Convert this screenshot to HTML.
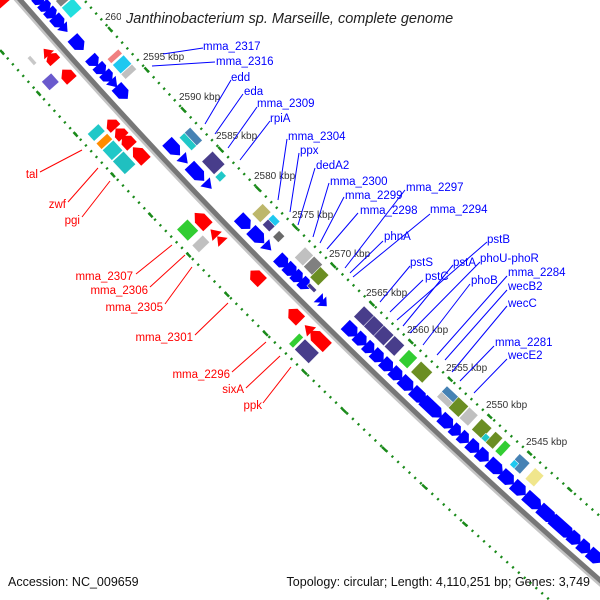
<!DOCTYPE html>
<html><head><meta charset="utf-8"><style>
html,body{margin:0;padding:0;background:#fff;width:600px;height:600px;overflow:hidden;}
svg{display:block;overflow:hidden;}
text{font-family:"Liberation Sans",sans-serif;}
.b{fill:#0000ff;}
.r{fill:#ff0000;}
.bl{fill:#0000ff;font-size:11.5px;}
.rl{fill:#ff0000;font-size:11.5px;}
.k{fill:#333;font-size:10px;}
</style></head><body>
<svg width="600" height="600" viewBox="0 0 600 600" xmlns="http://www.w3.org/2000/svg">
<rect width="600" height="600" fill="#fff"/>
<path d="M18.6,-75.4 A5952,5952 0 0 0 679.4,585.3" fill="none" stroke="#1a8a1a" stroke-width="2.5" stroke-dasharray="2 5.8"/>
<path d="M-54.3,-13 A6048,6048 0 0 0 617,658.3" fill="none" stroke="#1a8a1a" stroke-width="2.5" stroke-dasharray="2 5.8"/>
<g stroke="#1a8a1a" stroke-width="2.5">
<line transform="rotate(4.2 4544.6 -3940.6) translate(302 302) rotate(45)" x1="-3" y1="-48" x2="3" y2="-48"/>
<line transform="rotate(3.684 4544.6 -3940.6) translate(302 302) rotate(45)" x1="-3" y1="-48" x2="3" y2="-48"/>
<line transform="rotate(3.163 4544.6 -3940.6) translate(302 302) rotate(45)" x1="-3" y1="-48" x2="3" y2="-48"/>
<line transform="rotate(2.641 4544.6 -3940.6) translate(302 302) rotate(45)" x1="-3" y1="-48" x2="3" y2="-48"/>
<line transform="rotate(2.119 4544.6 -3940.6) translate(302 302) rotate(45)" x1="-3" y1="-48" x2="3" y2="-48"/>
<line transform="rotate(1.597 4544.6 -3940.6) translate(302 302) rotate(45)" x1="-3" y1="-48" x2="3" y2="-48"/>
<line transform="rotate(1.075 4544.6 -3940.6) translate(302 302) rotate(45)" x1="-3" y1="-48" x2="3" y2="-48"/>
<line transform="rotate(0.553 4544.6 -3940.6) translate(302 302) rotate(45)" x1="-3" y1="-48" x2="3" y2="-48"/>
<line transform="rotate(0.031 4544.6 -3940.6) translate(302 302) rotate(45)" x1="-3" y1="-48" x2="3" y2="-48"/>
<line transform="rotate(-0.491 4544.6 -3940.6) translate(302 302) rotate(45)" x1="-3" y1="-48" x2="3" y2="-48"/>
<line transform="rotate(-1.012 4544.6 -3940.6) translate(302 302) rotate(45)" x1="-3" y1="-48" x2="3" y2="-48"/>
<line transform="rotate(-1.535 4544.6 -3940.6) translate(302 302) rotate(45)" x1="-3" y1="-48" x2="3" y2="-48"/>
<line transform="rotate(-2.057 4544.6 -3940.6) translate(302 302) rotate(45)" x1="-3" y1="-48" x2="3" y2="-48"/>
<line transform="rotate(-2.579 4544.6 -3940.6) translate(302 302) rotate(45)" x1="-3" y1="-48" x2="3" y2="-48"/>
<line transform="rotate(-3.1 4544.6 -3940.6) translate(302 302) rotate(45)" x1="-3" y1="-48" x2="3" y2="-48"/>
<line transform="rotate(-3.622 4544.6 -3940.6) translate(302 302) rotate(45)" x1="-3" y1="-48" x2="3" y2="-48"/>
<line transform="rotate(4.2 4544.6 -3940.6) translate(302 302) rotate(45)" x1="-3" y1="48" x2="3" y2="48"/>
<line transform="rotate(3.684 4544.6 -3940.6) translate(302 302) rotate(45)" x1="-3" y1="48" x2="3" y2="48"/>
<line transform="rotate(3.163 4544.6 -3940.6) translate(302 302) rotate(45)" x1="-3" y1="48" x2="3" y2="48"/>
<line transform="rotate(2.641 4544.6 -3940.6) translate(302 302) rotate(45)" x1="-3" y1="48" x2="3" y2="48"/>
<line transform="rotate(2.119 4544.6 -3940.6) translate(302 302) rotate(45)" x1="-3" y1="48" x2="3" y2="48"/>
<line transform="rotate(1.597 4544.6 -3940.6) translate(302 302) rotate(45)" x1="-3" y1="48" x2="3" y2="48"/>
<line transform="rotate(1.075 4544.6 -3940.6) translate(302 302) rotate(45)" x1="-3" y1="48" x2="3" y2="48"/>
<line transform="rotate(0.553 4544.6 -3940.6) translate(302 302) rotate(45)" x1="-3" y1="48" x2="3" y2="48"/>
<line transform="rotate(0.031 4544.6 -3940.6) translate(302 302) rotate(45)" x1="-3" y1="48" x2="3" y2="48"/>
<line transform="rotate(-0.491 4544.6 -3940.6) translate(302 302) rotate(45)" x1="-3" y1="48" x2="3" y2="48"/>
<line transform="rotate(-1.012 4544.6 -3940.6) translate(302 302) rotate(45)" x1="-3" y1="48" x2="3" y2="48"/>
<line transform="rotate(-1.535 4544.6 -3940.6) translate(302 302) rotate(45)" x1="-3" y1="48" x2="3" y2="48"/>
<line transform="rotate(-2.057 4544.6 -3940.6) translate(302 302) rotate(45)" x1="-3" y1="48" x2="3" y2="48"/>
<line transform="rotate(-2.579 4544.6 -3940.6) translate(302 302) rotate(45)" x1="-3" y1="48" x2="3" y2="48"/>
</g>
<path d="M-17.8,-44.2 A6000,6000 0 0 0 648.2,621.8" fill="none" stroke="#c4c4c4" stroke-width="3" transform="translate(-2.5 2.5)"/>
<path d="M-17.8,-44.2 A6000,6000 0 0 0 648.2,621.8" fill="none" stroke="#777" stroke-width="5"/>

<g class="b">
<polygon transform="rotate(3.82 4544.6 -3940.6) translate(302 302) rotate(45) scale(1.2 1)" points="-4.5,-21 0.5,-21 4.5,-14.5 0.5,-8 -4.5,-8"/>
<polygon transform="rotate(3.734 4544.6 -3940.6) translate(302 302) rotate(45) scale(1.2 1)" points="-4.5,-21 0.5,-21 4.5,-14.5 0.5,-8 -4.5,-8"/>
<polygon transform="rotate(3.648 4544.6 -3940.6) translate(302 302) rotate(45) scale(1.2 1)" points="-4.5,-21 0.5,-21 4.5,-14.5 0.5,-8 -4.5,-8"/>
<polygon transform="rotate(3.543 4544.6 -3940.6) translate(302 302) rotate(45) scale(1.2 1)" points="-6,-21 1,-21 6,-14.5 1,-8 -6,-8"/>
<polygon transform="rotate(3.457 4544.6 -3940.6) translate(302 302) rotate(45) scale(1.2 1)" points="-3.5,-21 3.5,-14.5 -3.5,-8"/>
<polygon transform="rotate(3.266 4544.6 -3940.6) translate(302 302) rotate(45) scale(1.2 1)" points="-7,-21 2,-21 7,-14.5 2,-8 -7,-8"/>
<polygon transform="rotate(3.037 4544.6 -3940.6) translate(302 302) rotate(45) scale(1.2 1)" points="-5,-21 0,-21 5,-14.5 0,-8 -5,-8"/>
<polygon transform="rotate(2.932 4544.6 -3940.6) translate(302 302) rotate(45) scale(1.2 1)" points="-5,-21 0,-21 5,-14.5 0,-8 -5,-8"/>
<polygon transform="rotate(2.836 4544.6 -3940.6) translate(302 302) rotate(45) scale(1.2 1)" points="-5,-21 0,-21 5,-14.5 0,-8 -5,-8"/>
<polygon transform="rotate(2.75 4544.6 -3940.6) translate(302 302) rotate(45) scale(1.2 1)" points="-4,-21 4,-14.5 -4,-8"/>
<polygon transform="rotate(2.636 4544.6 -3940.6) translate(302 302) rotate(45) scale(1.2 1)" points="-7,-21 2,-21 7,-14.5 2,-8 -7,-8"/>
<polygon transform="rotate(1.91 4544.6 -3940.6) translate(302 302) rotate(45) scale(1.2 1)" points="-8,-21 2,-21 8,-14.5 2,-8 -8,-8"/>
<polygon transform="rotate(1.757 4544.6 -3940.6) translate(302 302) rotate(45) scale(1.2 1)" points="-4,-21 4,-14.5 -4,-8"/>
<polygon transform="rotate(1.585 4544.6 -3940.6) translate(302 302) rotate(45) scale(1.2 1)" points="-9,-21 3,-21 9,-14.5 3,-8 -9,-8"/>
<polygon transform="rotate(1.423 4544.6 -3940.6) translate(302 302) rotate(45) scale(1.2 1)" points="-4,-21 4,-14.5 -4,-8"/>
<polygon transform="rotate(0.926 4544.6 -3940.6) translate(302 302) rotate(45) scale(1.2 1)" points="-7,-21 2,-21 7,-14.5 2,-8 -7,-8"/>
<polygon transform="rotate(0.745 4544.6 -3940.6) translate(302 302) rotate(45) scale(1.2 1)" points="-8,-21 2,-21 8,-14.5 2,-8 -8,-8"/>
<polygon transform="rotate(0.602 4544.6 -3940.6) translate(302 302) rotate(45) scale(1.2 1)" points="-4,-21 4,-14.5 -4,-8"/>
<polygon transform="rotate(0.401 4544.6 -3940.6) translate(302 302) rotate(45) scale(1.2 1)" points="-6,-21 1,-21 6,-14.5 1,-8 -6,-8"/>
<polygon transform="rotate(0.287 4544.6 -3940.6) translate(302 302) rotate(45) scale(1.2 1)" points="-6,-21 1,-21 6,-14.5 1,-8 -6,-8"/>
<polygon transform="rotate(0.191 4544.6 -3940.6) translate(302 302) rotate(45) scale(1.2 1)" points="-5,-21 0,-21 5,-14.5 0,-8 -5,-8"/>
<polygon transform="rotate(0.096 4544.6 -3940.6) translate(302 302) rotate(45) scale(1.2 1)" points="-5,-21 0,-21 5,-14.5 0,-8 -5,-8"/>
<polygon transform="rotate(-0.115 4544.6 -3940.6) translate(302 302) rotate(45) scale(1.2 1)" points="-3,-21 3,-14.5 -3,-8"/>
<polygon transform="rotate(-0.162 4544.6 -3940.6) translate(302 302) rotate(45) scale(1.2 1)" points="-3,-21 3,-14.5 -3,-8"/>
<polygon transform="rotate(-0.525 4544.6 -3940.6) translate(302 302) rotate(45) scale(1.2 1)" points="-7,-21 2,-21 7,-14.5 2,-8 -7,-8"/>
<polygon transform="rotate(-0.659 4544.6 -3940.6) translate(302 302) rotate(45) scale(1.2 1)" points="-6,-21 1,-21 6,-14.5 1,-8 -6,-8"/>
<polygon transform="rotate(-0.774 4544.6 -3940.6) translate(302 302) rotate(45) scale(1.2 1)" points="-5,-21 0,-21 5,-14.5 0,-8 -5,-8"/>
<polygon transform="rotate(-0.888 4544.6 -3940.6) translate(302 302) rotate(45) scale(1.2 1)" points="-6,-21 1,-21 6,-14.5 1,-8 -6,-8"/>
<polygon transform="rotate(-1.012 4544.6 -3940.6) translate(302 302) rotate(45) scale(1.2 1)" points="-6,-21 1,-21 6,-14.5 1,-8 -6,-8"/>
<polygon transform="rotate(-1.136 4544.6 -3940.6) translate(302 302) rotate(45) scale(1.2 1)" points="-6,-21 1,-21 6,-14.5 1,-8 -6,-8"/>
<polygon transform="rotate(-1.27 4544.6 -3940.6) translate(302 302) rotate(45) scale(1.2 1)" points="-7,-21 2,-21 7,-14.5 2,-8 -7,-8"/>
<polygon transform="rotate(-1.433 4544.6 -3940.6) translate(302 302) rotate(45) scale(1.2 1)" points="-8,-21 2,-21 8,-14.5 2,-8 -8,-8"/>
<polygon transform="rotate(-1.604 4544.6 -3940.6) translate(302 302) rotate(45) scale(1.2 1)" points="-11,-21 5,-21 11,-14.5 5,-8 -11,-8"/>
<polygon transform="rotate(-1.795 4544.6 -3940.6) translate(302 302) rotate(45) scale(1.2 1)" points="-7,-21 2,-21 7,-14.5 2,-8 -7,-8"/>
<polygon transform="rotate(-1.92 4544.6 -3940.6) translate(302 302) rotate(45) scale(1.2 1)" points="-5,-21 0,-21 5,-14.5 0,-8 -5,-8"/>
<polygon transform="rotate(-2.025 4544.6 -3940.6) translate(302 302) rotate(45) scale(1.2 1)" points="-5,-21 0,-21 5,-14.5 0,-8 -5,-8"/>
<polygon transform="rotate(-2.149 4544.6 -3940.6) translate(302 302) rotate(45) scale(1.2 1)" points="-6,-21 1,-21 6,-14.5 1,-8 -6,-8"/>
<polygon transform="rotate(-2.273 4544.6 -3940.6) translate(302 302) rotate(45) scale(1.2 1)" points="-6,-21 1,-21 6,-14.5 1,-8 -6,-8"/>
<polygon transform="rotate(-2.435 4544.6 -3940.6) translate(302 302) rotate(45) scale(1.2 1)" points="-8,-21 2,-21 8,-14.5 2,-8 -8,-8"/>
<polygon transform="rotate(-2.588 4544.6 -3940.6) translate(302 302) rotate(45) scale(1.2 1)" points="-7,-21 2,-21 7,-14.5 2,-8 -7,-8"/>
<polygon transform="rotate(-2.741 4544.6 -3940.6) translate(302 302) rotate(45) scale(1.2 1)" points="-7,-21 2,-21 7,-14.5 2,-8 -7,-8"/>
<polygon transform="rotate(-2.922 4544.6 -3940.6) translate(302 302) rotate(45) scale(1.2 1)" points="-9,-21 3,-21 9,-14.5 3,-8 -9,-8"/>
<polygon transform="rotate(-3.104 4544.6 -3940.6) translate(302 302) rotate(45) scale(1.2 1)" points="-9,-21 3,-21 9,-14.5 3,-8 -9,-8"/>
<polygon transform="rotate(-3.295 4544.6 -3940.6) translate(302 302) rotate(45) scale(1.2 1)" points="-12,-21 6,-21 12,-14.5 6,-8 -12,-8"/>
<polygon transform="rotate(-3.457 4544.6 -3940.6) translate(302 302) rotate(45) scale(1.2 1)" points="-6,-21 1,-21 6,-14.5 1,-8 -6,-8"/>
<polygon transform="rotate(-3.581 4544.6 -3940.6) translate(302 302) rotate(45) scale(1.2 1)" points="-6,-21 1,-21 6,-14.5 1,-8 -6,-8"/>
<polygon transform="rotate(-3.715 4544.6 -3940.6) translate(302 302) rotate(45) scale(1.2 1)" points="-7,-21 2,-21 7,-14.5 2,-8 -7,-8"/>
</g>

<g class="r">
<polygon transform="rotate(4.068 4544.6 -3940.6) translate(302 302) rotate(45) scale(1.2 1)" points="5,8 0,8 -5,14.5 0,21 5,21"/>
<polygon transform="rotate(3.409 4544.6 -3940.6) translate(302 302) rotate(45) scale(1.2 1)" points="3.5,8 -3.5,14.5 3.5,21"/>
<polygon transform="rotate(3.333 4544.6 -3940.6) translate(302 302) rotate(45) scale(1.2 1)" points="4.5,8 -0.5,8 -4.5,14.5 -0.5,21 4.5,21"/>
<polygon transform="rotate(3.113 4544.6 -3940.6) translate(302 302) rotate(45) scale(1.2 1)" points="6,8 -1,8 -6,14.5 -1,21 6,21"/>
<polygon transform="rotate(2.483 4544.6 -3940.6) translate(302 302) rotate(45) scale(1.2 1)" points="5,8 0,8 -5,14.5 0,21 5,21"/>
<polygon transform="rotate(2.368 4544.6 -3940.6) translate(302 302) rotate(45) scale(1.2 1)" points="5,8 0,8 -5,14.5 0,21 5,21"/>
<polygon transform="rotate(2.263 4544.6 -3940.6) translate(302 302) rotate(45) scale(1.2 1)" points="6,8 -1,8 -6,14.5 -1,21 6,21"/>
<polygon transform="rotate(2.091 4544.6 -3940.6) translate(302 302) rotate(45) scale(1.2 1)" points="8,8 -2,8 -8,14.5 -2,21 8,21"/>
<polygon transform="rotate(1.232 4544.6 -3940.6) translate(302 302) rotate(45) scale(1.2 1)" points="8,8 -2,8 -8,14.5 -2,21 8,21"/>
<polygon transform="rotate(1.06 4544.6 -3940.6) translate(302 302) rotate(45) scale(1.2 1)" points="4,8 -4,14.5 4,21"/>
<polygon transform="rotate(0.974 4544.6 -3940.6) translate(302 302) rotate(45) scale(1.2 1)" points="3.5,8 -3.5,14.5 3.5,21"/>
<polygon transform="rotate(0.478 4544.6 -3940.6) translate(302 302) rotate(45) scale(1.2 1)" points="7,8 -2,8 -7,14.5 -2,21 7,21"/>
<polygon transform="rotate(-0.038 4544.6 -3940.6) translate(302 302) rotate(45) scale(1.2 1)" points="7,8 -2,8 -7,14.5 -2,21 7,21"/>
<polygon transform="rotate(-0.22 4544.6 -3940.6) translate(302 302) rotate(45) scale(1.2 1)" points="4,8 -4,14.5 4,21"/>
<polygon transform="rotate(-0.363 4544.6 -3940.6) translate(302 302) rotate(45) scale(1.2 1)" points="10,8 -4,8 -10,14.5 -4,21 10,21"/>
</g>

<g stroke="#fff" stroke-width="0.5">
<rect transform="rotate(3.677 4544.6 -3940.6) translate(302 302) rotate(45)" x="-4" y="-41" width="8" height="15" fill="#808080"/>
<rect transform="rotate(3.562 4544.6 -3940.6) translate(302 302) rotate(45)" x="-7" y="-41" width="14" height="15" fill="#22dede"/>
<rect transform="rotate(2.941 4544.6 -3940.6) translate(302 302) rotate(45)" x="-3" y="-41" width="6" height="15" fill="#f08080"/>
<rect transform="rotate(2.836 4544.6 -3940.6) translate(302 302) rotate(45)" x="-6" y="-41" width="12" height="15" fill="#1ec8f0"/>
<rect transform="rotate(2.741 4544.6 -3940.6) translate(302 302) rotate(45)" x="-3.5" y="-41" width="7" height="15" fill="#c0c0c0"/>
<rect transform="rotate(1.862 4544.6 -3940.6) translate(302 302) rotate(45)" x="-9" y="-41" width="18" height="8" fill="#4682b4"/>
<rect transform="rotate(1.862 4544.6 -3940.6) translate(302 302) rotate(45)" x="-9" y="-33" width="18" height="7" fill="#20c8c8"/>
<rect transform="rotate(1.547 4544.6 -3940.6) translate(302 302) rotate(45)" x="-9" y="-41" width="18" height="15" fill="#483d8b"/>
<rect transform="rotate(1.404 4544.6 -3940.6) translate(302 302) rotate(45)" x="-3.5" y="-34" width="7" height="9" fill="#20c8c8"/>
<rect transform="rotate(0.879 4544.6 -3940.6) translate(302 302) rotate(45)" x="-6" y="-41" width="12" height="15" fill="#bdb76b"/>
<rect transform="rotate(0.745 4544.6 -3940.6) translate(302 302) rotate(45)" x="-5" y="-41" width="10" height="7" fill="#1ec8f0"/>
<rect transform="rotate(0.745 4544.6 -3940.6) translate(302 302) rotate(45)" x="-5" y="-34" width="10" height="8" fill="#483d8b"/>
<rect transform="rotate(0.602 4544.6 -3940.6) translate(302 302) rotate(45)" x="-4" y="-34" width="8" height="9" fill="#696969"/>
<rect transform="rotate(0.296 4544.6 -3940.6) translate(302 302) rotate(45)" x="-6" y="-41" width="12" height="15" fill="#c0c0c0"/>
<rect transform="rotate(0.172 4544.6 -3940.6) translate(302 302) rotate(45)" x="-6" y="-41" width="12" height="15" fill="#808080"/>
<rect transform="rotate(0.057 4544.6 -3940.6) translate(302 302) rotate(45)" x="-6" y="-38" width="12" height="15" fill="#6b8e23"/>
<rect transform="rotate(0.029 4544.6 -3940.6) translate(302 302) rotate(45)" x="-5" y="-19" width="10" height="4" fill="#483d8b"/>
<rect transform="rotate(-0.516 4544.6 -3940.6) translate(302 302) rotate(45)" x="-7" y="-41" width="14" height="15" fill="#483d8b"/>
<rect transform="rotate(-0.649 4544.6 -3940.6) translate(302 302) rotate(45)" x="-7" y="-41" width="14" height="15" fill="#483d8b"/>
<rect transform="rotate(-0.783 4544.6 -3940.6) translate(302 302) rotate(45)" x="-7" y="-41" width="14" height="15" fill="#483d8b"/>
<rect transform="rotate(-0.926 4544.6 -3940.6) translate(302 302) rotate(45)" x="-7" y="-41" width="14" height="15" fill="#483d8b"/>
<rect transform="rotate(-1.108 4544.6 -3940.6) translate(302 302) rotate(45)" x="-6" y="-41" width="12" height="15" fill="#32cd32"/>
<rect transform="rotate(-1.289 4544.6 -3940.6) translate(302 302) rotate(45)" x="-8" y="-41" width="16" height="15" fill="#6b8e23"/>
<rect transform="rotate(-1.633 4544.6 -3940.6) translate(302 302) rotate(45)" x="-8" y="-41" width="16" height="8" fill="#4682b4"/>
<rect transform="rotate(-1.633 4544.6 -3940.6) translate(302 302) rotate(45)" x="-8" y="-33" width="16" height="7" fill="#c0c0c0"/>
<rect transform="rotate(-1.776 4544.6 -3940.6) translate(302 302) rotate(45)" x="-7" y="-41" width="14" height="15" fill="#6b8e23"/>
<rect transform="rotate(-1.91 4544.6 -3940.6) translate(302 302) rotate(45)" x="-6" y="-41" width="12" height="15" fill="#c0c0c0"/>
<rect transform="rotate(-2.082 4544.6 -3940.6) translate(302 302) rotate(45)" x="-7" y="-41" width="14" height="15" fill="#6b8e23"/>
<rect transform="rotate(-2.177 4544.6 -3940.6) translate(302 302) rotate(45)" x="-4" y="-33" width="8" height="7" fill="#20c8c8"/>
<rect transform="rotate(-2.244 4544.6 -3940.6) translate(302 302) rotate(45)" x="-5" y="-41" width="10" height="15" fill="#6b8e23"/>
<rect transform="rotate(-2.359 4544.6 -3940.6) translate(302 302) rotate(45)" x="-4" y="-41" width="8" height="15" fill="#32cd32"/>
<rect transform="rotate(-2.579 4544.6 -3940.6) translate(302 302) rotate(45)" x="-7" y="-41" width="14" height="15" fill="#4682b4"/>
<rect transform="rotate(-2.579 4544.6 -3940.6) translate(302 302) rotate(45)" x="-7" y="-33" width="6" height="7" fill="#1ec8f0"/>
<rect transform="rotate(-2.77 4544.6 -3940.6) translate(302 302) rotate(45)" x="-6" y="-41" width="12" height="15" fill="#f0e68c"/>
<rect transform="rotate(3.438 4544.6 -3940.6) translate(302 302) rotate(45)" x="-5" y="29" width="10" height="4" fill="#c8c8c8"/>
<rect transform="rotate(3.171 4544.6 -3940.6) translate(302 302) rotate(45)" x="-6" y="25" width="12" height="13" fill="#6a5acd"/>
<rect transform="rotate(2.521 4544.6 -3940.6) translate(302 302) rotate(45)" x="-5" y="24" width="10" height="15" fill="#20c8c8"/>
<rect transform="rotate(2.407 4544.6 -3940.6) translate(302 302) rotate(45)" x="-4" y="24" width="8" height="15" fill="#ff8c00"/>
<rect transform="rotate(2.292 4544.6 -3940.6) translate(302 302) rotate(45)" x="-7" y="24" width="14" height="15" fill="#20c8c8"/>
<rect transform="rotate(2.13 4544.6 -3940.6) translate(302 302) rotate(45)" x="-9" y="24" width="18" height="15" fill="#20c0c0"/>
<rect transform="rotate(1.251 4544.6 -3940.6) translate(302 302) rotate(45)" x="-8" y="24" width="16" height="15" fill="#32cd32"/>
<rect transform="rotate(1.07 4544.6 -3940.6) translate(302 302) rotate(45)" x="-5" y="24" width="10" height="15" fill="#c0c0c0"/>
<rect transform="rotate(-0.22 4544.6 -3940.6) translate(302 302) rotate(45)" x="-3" y="24" width="6" height="15" fill="#32cd32"/>
<rect transform="rotate(-0.363 4544.6 -3940.6) translate(302 302) rotate(45)" x="-10" y="24" width="20" height="15" fill="#483d8b"/>
</g>

<text class="k" x="105" y="20">2600 kbp</text>
<text class="k" x="143" y="60">2595 kbp</text>
<text class="k" x="179" y="100">2590 kbp</text>
<text class="k" x="216" y="139">2585 kbp</text>
<text class="k" x="254" y="179">2580 kbp</text>
<text class="k" x="292" y="218">2575 kbp</text>
<text class="k" x="329" y="257">2570 kbp</text>
<text class="k" x="366" y="296">2565 kbp</text>
<text class="k" x="407" y="333">2560 kbp</text>
<text class="k" x="446" y="371">2555 kbp</text>
<text class="k" x="486" y="408">2550 kbp</text>
<text class="k" x="526" y="445">2545 kbp</text>

<rect x="121" y="6" width="354" height="22" fill="#fff"/>
<text x="126" y="23" font-size="14.5" font-style="italic" fill="#222">Janthinobacterium sp. Marseille, complete genome</text>

<g stroke="#0000ff" stroke-width="1">
<line x1="163" y1="54" x2="203" y2="48"/>
<line x1="152" y1="66" x2="215" y2="62"/>
<line x1="205" y1="124" x2="231" y2="80"/>
<line x1="215" y1="134" x2="243" y2="94"/>
<line x1="228" y1="148" x2="257" y2="107"/>
<line x1="240" y1="160" x2="270" y2="121"/>
<line x1="278" y1="200" x2="287" y2="139"/>
<line x1="290" y1="212" x2="299" y2="153"/>
<line x1="298" y1="225" x2="315" y2="168"/>
<line x1="313" y1="237" x2="329" y2="183"/>
<line x1="320" y1="243" x2="344" y2="197"/>
<line x1="327" y1="249" x2="358" y2="213"/>
<line x1="345" y1="268" x2="405" y2="190"/>
<line x1="350" y1="273" x2="383" y2="241"/>
<line x1="353" y1="277" x2="430" y2="214"/>
<line x1="380" y1="302" x2="410" y2="266"/>
<line x1="390" y1="312" x2="423" y2="280"/>
<line x1="397" y1="320" x2="487" y2="242"/>
<line x1="403" y1="326" x2="453" y2="265"/>
<line x1="410" y1="333" x2="480" y2="262"/>
<line x1="423" y1="345" x2="470" y2="284"/>
<line x1="437" y1="355" x2="507" y2="276"/>
<line x1="445" y1="360" x2="507" y2="290"/>
<line x1="452" y1="372" x2="507" y2="306"/>
<line x1="460" y1="381" x2="494" y2="346"/>
<line x1="474" y1="393" x2="507" y2="359"/>
</g>
<text class="bl" x="203" y="50">mma_2317</text>
<text class="bl" x="216" y="65">mma_2316</text>
<text class="bl" x="231" y="81">edd</text>
<text class="bl" x="244" y="95">eda</text>
<text class="bl" x="257" y="107">mma_2309</text>
<text class="bl" x="270" y="122">rpiA</text>
<text class="bl" x="288" y="140">mma_2304</text>
<text class="bl" x="300" y="154">ppx</text>
<text class="bl" x="316" y="169">dedA2</text>
<text class="bl" x="330" y="185">mma_2300</text>
<text class="bl" x="345" y="199">mma_2299</text>
<text class="bl" x="406" y="191">mma_2297</text>
<text class="bl" x="360" y="214">mma_2298</text>
<text class="bl" x="430" y="213">mma_2294</text>
<text class="bl" x="384" y="240">phnA</text>
<text class="bl" x="410" y="266">pstS</text>
<text class="bl" x="487" y="243">pstB</text>
<text class="bl" x="425" y="280">pstC</text>
<text class="bl" x="453" y="266">pstA</text>
<text class="bl" x="480" y="262">phoU-phoR</text>
<text class="bl" x="471" y="284">phoB</text>
<text class="bl" x="508" y="276">mma_2284</text>
<text class="bl" x="508" y="290">wecB2</text>
<text class="bl" x="508" y="307">wecC</text>
<text class="bl" x="495" y="346">mma_2281</text>
<text class="bl" x="508" y="359">wecE2</text>

<g stroke="#ff0000" stroke-width="1">
<line x1="40" y1="172" x2="82" y2="150"/>
<line x1="68" y1="202" x2="98" y2="168"/>
<line x1="82" y1="217" x2="110" y2="181"/>
<line x1="136" y1="274" x2="172" y2="245"/>
<line x1="150" y1="287" x2="185" y2="255"/>
<line x1="165" y1="304" x2="192" y2="267"/>
<line x1="195" y1="335" x2="228" y2="303"/>
<line x1="232" y1="372" x2="266" y2="342"/>
<line x1="246" y1="388" x2="280" y2="356"/>
<line x1="263" y1="403" x2="291" y2="367"/>
</g>
<g text-anchor="end">
<text class="rl" x="38" y="178">tal</text>
<text class="rl" x="66" y="208">zwf</text>
<text class="rl" x="80" y="224">pgi</text>
<text class="rl" x="133" y="280">mma_2307</text>
<text class="rl" x="148" y="294">mma_2306</text>
<text class="rl" x="163" y="311">mma_2305</text>
<text class="rl" x="193" y="341">mma_2301</text>
<text class="rl" x="230" y="378">mma_2296</text>
<text class="rl" x="244" y="393">sixA</text>
<text class="rl" x="262" y="409">ppk</text>
</g>

<text x="8" y="586" font-size="12.5" fill="#111">Accession: NC_009659</text>
<text x="590" y="586" font-size="12.5" fill="#111" text-anchor="end">Topology: circular; Length: 4,110,251 bp; Genes: 3,749</text>
</svg>
</body></html>
